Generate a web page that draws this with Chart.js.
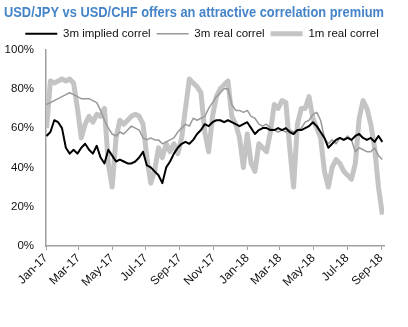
<!DOCTYPE html>
<html>
<head>
<meta charset="utf-8">
<script src="https://cdn.jsdelivr.net/npm/chart.js@4/dist/chart.umd.min.js"></script>
<style>
  html, body { margin: 0; padding: 0; background: #fff; }
  #wrap { position: relative; width: 408px; height: 327px; }
</style>
</head>
<body>
<div id="wrap"><canvas id="chart"></canvas></div>
<script>
// weekly observations (Mondays from 2 Jan 2017), x measured in days since 1 Jan 2017
const weekCount = 88;
const days = Array.from({ length: weekCount }, (_, i) => 1 + 7 * i);

// correlations in %
const implied3m = [
  56, 58, 64, 63, 60, 50, 47, 49, 47, 50,
  52, 49, 47, 51, 45, 42, 49, 46, 43, 44,
  43, 42, 42, 43, 45, 48, 41, 40, 38, 36,
  32, 40, 43, 47, 50, 52, 53, 52, 54, 57,
  59, 62, 61, 63, 64, 64, 63, 64, 63, 62,
  61, 62, 63, 60, 57, 59, 60, 60, 59, 59,
  60, 59, 60, 58, 57, 59, 59, 60, 61, 63,
  61, 58, 55, 50, 52, 54, 55, 54, 55, 54,
  56, 57, 55, 54, 55, 53, 56, 53
];
const real3m = [
  72, 73, 74, 75, 76, 77, 78, 77, 76, 75,
  75, 75, 74, 73, 69, 64, 60, 57, 56, 58,
  57, 59, 61, 60, 59, 55, 54, 55, 54, 54,
  52, 53, 54, 55, 58, 60, 62, 61, 65, 64,
  65, 66, 70, 73, 76, 78, 80, 80, 72, 69,
  69, 68, 69, 66, 65, 62, 61, 62, 60, 59,
  58, 59, 58, 59, 58, 59, 60, 63, 64, 67,
  68, 64, 55, 52, 54, 52, 55, 54, 56, 54,
  48, 50, 49, 48, 48, 50, 46, 44
];
const real1m = [
  60, 84, 83, 84, 85, 84, 85, 83, 70, 55,
  62, 66, 63, 67, 66, 70, 42, 30, 55, 64,
  62, 64, 66, 67, 66, 62, 45, 32, 38, 50,
  45, 52, 48, 52, 47, 55, 70, 85, 83, 81,
  78, 58, 48, 66, 76, 80, 82, 84, 66, 62,
  55, 40, 57, 42, 38, 52, 50, 48, 58, 72,
  70, 74, 73, 50, 30, 62, 70, 70, 76, 65,
  60, 55, 38, 30, 40, 44, 42, 38, 36, 34,
  42, 65, 74, 70, 62, 50, 30, 16
];

// bi-monthly axis ticks
const tickLabels = ['Jan-17', 'Mar-17', 'May-17', 'Jul-17', 'Sep-17', 'Nov-17',
                    'Jan-18', 'Mar-18', 'May-18', 'Jul-18', 'Sep-18'];
const tickDays = [0, 59, 120, 181, 243, 304, 365, 424, 485, 546, 608];
const lastDay = 613;

const toPoints = (vals) => vals.map((v, i) => ({ x: days[i], y: v }));
const font = "'Liberation Sans', Arial, sans-serif";
const axisColor = '#a0a0a0';

// nudge the legend row a little to the right of the centred position
const legendShift = {
  id: 'legendShift',
  afterLayout(chart) {
    if (chart.legend) {
      chart.legend.left += 8;
      chart.legend.right += 8;
    }
  },
};

new Chart(document.getElementById('chart'), {
  type: 'line',
  data: {
    datasets: [
      {
        label: '3m implied correl',
        data: toPoints(implied3m),
        borderColor: '#000000',
        borderWidth: 2,
      },
      {
        label: '3m real correl',
        data: toPoints(real3m),
        borderColor: '#999999',
        borderWidth: 1.5,
      },
      {
        label: '1m real correl',
        data: toPoints(real1m),
        borderColor: '#c4c4c4',
        borderWidth: 5,
      },
    ],
  },
  options: {
    responsive: true,
    maintainAspectRatio: false,
    animation: false,
    elements: {
      point: { radius: 0 },
      line: { tension: 0, borderJoinStyle: 'round' },
    },
    layout: {
      padding: { left: 4, right: 24, top: 0, bottom: 0 },
    },
    scales: {
      x: {
        type: 'linear',
        min: 0,
        max: lastDay,
        afterBuildTicks: (scale) => {
          scale.ticks = tickDays.map((d) => ({ value: d }));
        },
        afterFit: (scale) => {
          scale.height = 81;
        },
        grid: {
          drawOnChartArea: false,
          color: axisColor,
          tickLength: 4,
        },
        border: { color: axisColor, width: 1.5 },
        ticks: {
          autoSkip: false,
          minRotation: 45,
          maxRotation: 45,
          padding: 1,
          color: '#111',
          font: { family: font, size: 12 },
          callback: (value, index) => tickLabels[index],
        },
      },
      y: {
        min: 0,
        max: 100,
        afterFit: (scale) => {
          scale.width = 42;
        },
        grid: {
          drawOnChartArea: false,
          drawTicks: false,
        },
        border: { color: axisColor, width: 1.5 },
        ticks: {
          stepSize: 20,
          padding: 12,
          color: '#111',
          font: { family: font, size: 11.5 },
          callback: (value) => value + '%',
        },
      },
    },
    plugins: {
      title: {
        display: true,
        text: 'USD/JPY vs USD/CHF offers an attractive correlation premium',
        align: 'start',
        color: '#4584c8',
        font: {
          family: "'Liberation Sans Narrow', 'Arial Narrow', 'Liberation Sans', sans-serif",
          size: 15,
          weight: 'bold',
        },
        padding: { top: 4, bottom: 0 },
      },
      legend: {
        labels: {
          usePointStyle: true,
          pointStyle: 'line',
          boxWidth: 32,
          pointStyleWidth: 32,
          padding: 6,
          color: '#111',
          font: { family: font, size: 11.5 },
        },
      },
      tooltip: { enabled: false },
    },
  },
  plugins: [legendShift],
});
</script>
</body>
</html>
